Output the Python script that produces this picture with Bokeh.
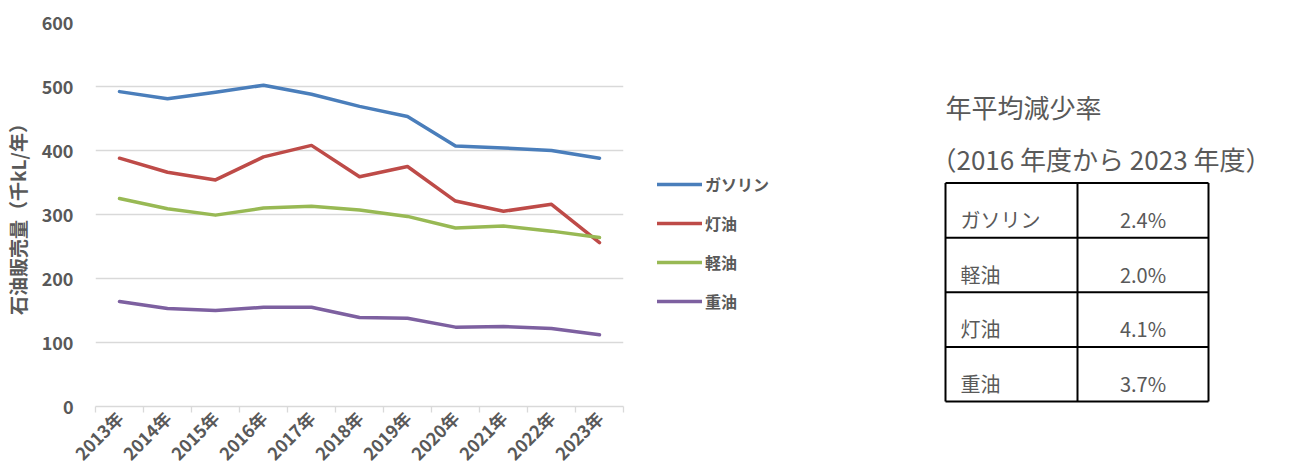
import numpy as np
from bokeh.plotting import figure
from bokeh.models import (Range1d, FixedTicker, Legend, LegendItem, Label)
from bokeh.layouts import row
from bokeh.embed import file_html
from bokeh.resources import INLINE
from bokeh.core.properties import value

years = ["2013年", "2014年", "2015年", "2016年", "2017年", "2018年",
         "2019年", "2020年", "2021年", "2022年", "2023年"]
gasoline = [492, 481, 491, 502, 488, 469, 453, 407, 404, 400, 388]
kerosene = [388, 366, 354, 390, 408, 359, 375, 321, 305, 316, 256]
light_oil = [325, 309, 299, 310, 313, 307, 297, 279, 282, 274, 264]
heavy_oil = [164, 153, 150, 155, 155, 139, 138, 124, 125, 122, 112]
y_ticks = [0, 100, 200, 300, 400, 500, 600]

table_title = "年平均減少率"
table_subtitle = "（2016 年度から 2023 年度）"
table_names = ["ガソリン", "軽油", "灯油", "重油"]
table_rates = [2.4, 2.0, 4.1, 3.7]

FONT = "Noto Sans CJK JP"
GRAY = "#595959"
GRID = "#d9d9d9"

n = len(years)
xs = np.arange(n) + 0.5

W1 = 640
p = figure(width=W1, height=476, output_backend="svg", toolbar_location=None,
           x_range=Range1d(0, n), y_range=Range1d(0, 600),
           min_border_left=92, min_border_right=W1 - 623, min_border_top=22,
           min_border_bottom=69)
p.outline_line_color = None

series = [("ガソリン", gasoline, "#4a7ebb"), ("灯油", kerosene, "#be4b48"),
          ("軽油", light_oil, "#98b954"), ("重油", heavy_oil, "#7d60a0")]
for name, vals, col in series:
    p.line(xs, vals, line_color=col, line_width=3.5, line_join="round", line_cap="round")

# y axis
p.yaxis.ticker = FixedTicker(ticks=y_ticks)
p.yaxis.axis_line_color = None
p.yaxis.major_tick_line_color = None
p.yaxis.minor_tick_line_color = None
p.yaxis.major_tick_out = 0
p.yaxis.major_label_standoff = 22
p.yaxis.major_label_text_font = FONT
p.yaxis.major_label_text_font_style = "bold"
p.yaxis.major_label_text_font_size = "18px"
p.yaxis.major_label_text_color = GRAY
p.yaxis.axis_label = "石油販売量（千kL/年）"
p.yaxis.axis_label_text_font = FONT
p.yaxis.axis_label_text_font_style = "bold"
p.yaxis.axis_label_text_font_size = "19px"
p.yaxis.axis_label_text_color = GRAY
p.yaxis.axis_label_standoff = 8

p.ygrid.grid_line_color = GRID
p.ygrid.grid_line_width = 1.3
p.ygrid.ticker = FixedTicker(ticks=y_ticks)
p.xgrid.grid_line_color = None

# x axis
p.xaxis.ticker = FixedTicker(ticks=list(xs), minor_ticks=list(range(n + 1)))
p.xaxis.major_label_overrides = {float(x): y for x, y in zip(xs, years)}
p.xaxis.axis_line_color = GRID
p.xaxis.axis_line_width = 1.3
p.xaxis.major_tick_line_color = None
p.xaxis.major_tick_out = 0
p.xaxis.major_tick_in = 0
p.xaxis.minor_tick_line_color = GRID
p.xaxis.minor_tick_line_width = 1.3
p.xaxis.minor_tick_out = 6
p.xaxis.minor_tick_in = 0
p.xaxis.major_label_orientation = np.pi / 4
p.xaxis.major_label_standoff = 2
p.xaxis.major_label_text_font = FONT
p.xaxis.major_label_text_font_style = "bold"
p.xaxis.major_label_text_font_size = "17.5px"
p.xaxis.major_label_text_color = GRAY

# right panel (legend + table): data units equal page pixels
W2 = 1295 - W1
t = figure(width=W2, height=476, output_backend="svg", toolbar_location=None,
           x_range=Range1d(W1, 1295), y_range=Range1d(407, 22),
           min_border_left=0, min_border_right=0, min_border_top=22,
           min_border_bottom=69)
t.axis.visible = False
t.grid.visible = False
t.outline_line_color = None

items = []
for name, vals, col in series:
    # legend key renderer kept outside the visible range
    r = t.line(x=[0, 1], y=[-100, -100], line_color=col, line_width=3.5, line_cap="round")
    items.append(LegendItem(label=name, renderers=[r]))
legend = Legend(items=items, location=(17, 93), orientation="vertical",
                glyph_width=45, glyph_height=20, label_height=20,
                label_standoff=3, spacing=15, padding=0, margin=0,
                border_line_alpha=0, background_fill_alpha=0,
                label_text_font=FONT, label_text_font_style="bold",
                label_text_font_size="16px", label_text_color=GRAY)
t.add_layout(legend)

t.add_layout(Label(x=945, y=106, text=table_title, text_font=FONT,
                   text_font_size="26px", text_color=GRAY, text_baseline="middle"))
t.add_layout(Label(x=930, y=158, text=table_subtitle, text_font=FONT,
                   text_font_size="26px", text_color=GRAY, text_baseline="middle"))

left, mid, right = 945, 1077, 1208
top, row_h = 183, 54.75
nrows = len(table_names)
bounds = [top + i * row_h for i in range(nrows + 1)]
t.segment(x0=[left] * (nrows + 1), x1=[right] * (nrows + 1), y0=bounds, y1=bounds,
          line_color="black", line_width=2)
t.segment(x0=[left, mid, right], x1=[left, mid, right], y0=[top] * 3, y1=[bounds[-1]] * 3,
          line_color="black", line_width=2)
text_y = [b - 18 for b in bounds[1:]]
t.text(x=[left + 15] * nrows, y=text_y, text=table_names, text_font=value(FONT),
       text_font_size="20px", text_color=GRAY, text_baseline="middle", text_align="left")
t.text(x=[(mid + right) / 2] * nrows, y=text_y, text=[f"{r:.1f}%" for r in table_rates],
       text_font=value(FONT), text_font_size="20px", text_color=GRAY,
       text_baseline="middle", text_align="center")

layout = row(p, t)
open("out.html", "w").write(file_html(layout, INLINE))
